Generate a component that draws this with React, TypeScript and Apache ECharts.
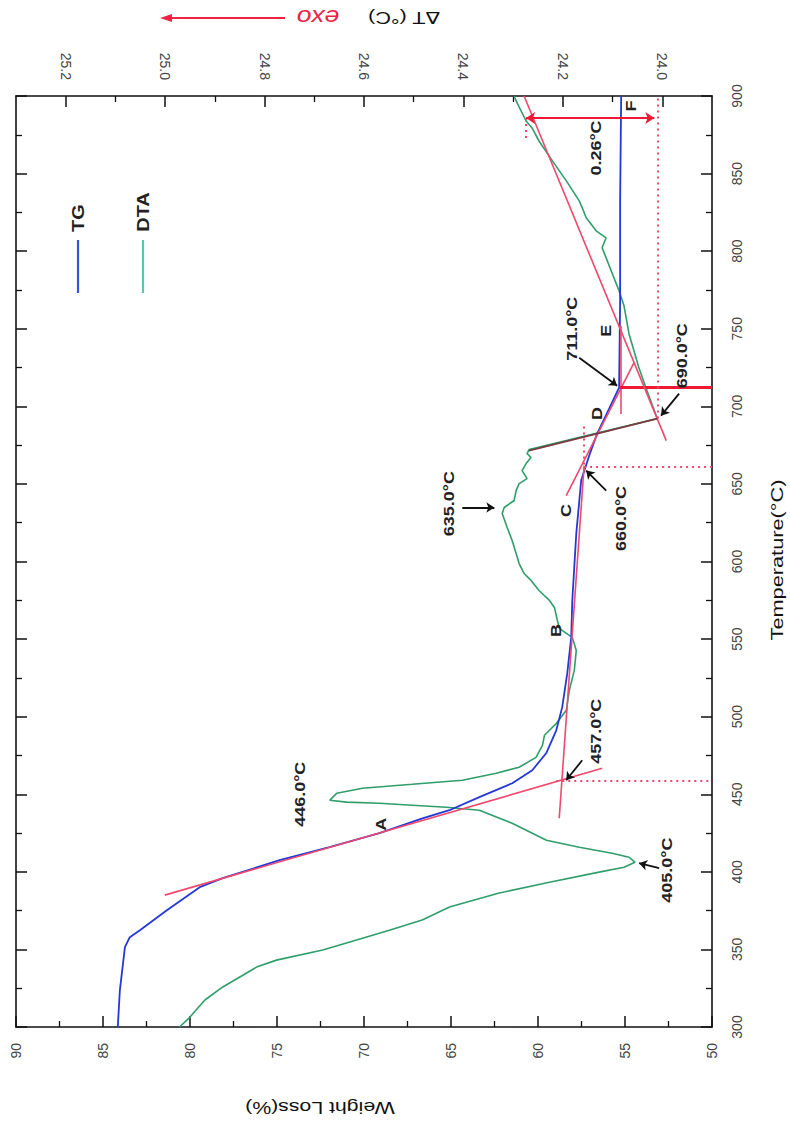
import React, { useEffect, useRef } from "react";
import * as echarts from "echarts";

// ---------- data ----------
const tgTemp = [300.0, 323.8, 351.5, 357.9, 362.4, 375.3, 390.1, 395.9, 407.5, 415.9, 424.9, 434.5, 439.7, 448.1, 457.1, 465.5, 476.4, 491.2, 506.0, 527.9, 551.1, 574.9, 618.0, 652.2, 668.2, 682.4, 698.5, 712.0, 768.0, 832.4, 900.0];
const tgWeight = [84.15, 84.03, 83.74, 83.46, 82.88, 81.33, 79.44, 78.12, 74.85, 71.98, 69.11, 66.64, 65.09, 63.37, 61.48, 60.33, 59.53, 58.95, 58.61, 58.32, 58.09, 58.03, 57.80, 57.52, 57.06, 56.60, 55.91, 55.34, 55.28, 55.28, 55.22];

const dtaTemp = [300.0, 306.4, 317.4, 325.8, 338.6, 343.1, 349.6, 356.0, 362.4, 368.9, 377.3, 386.3, 393.3, 399.8, 403.0, 406.2, 409.4, 412.0, 415.9, 420.4, 431.3, 439.7, 441.6, 442.9, 444.2, 444.9, 446.1, 450.6, 453.9, 456.4, 459.0, 463.5, 467.4, 473.8, 481.5, 488.0, 495.7, 504.1, 517.0, 529.8,
  542.7, 551.1, 553.7, 556.9, 562.0, 570.4, 574.9, 581.3, 587.8, 592.3, 598.7, 605.2, 613.5, 621.9, 630.9, 634.8, 639.3, 645.7, 650.2, 653.4, 658.6, 663.1, 667.0, 669.5, 672.1,
  692.1, 712.0, 724.9, 746.8, 764.8, 774.5, 795.7, 802.2, 808.6, 813.1, 821.5, 827.9, 832.4, 845.3, 858.2, 871.0, 879.4, 883.9, 896.8, 900.0];
const dtaDelta = [24.971, 24.950, 24.920, 24.884, 24.816, 24.776, 24.683, 24.615, 24.549, 24.483, 24.428, 24.328, 24.227, 24.127, 24.077, 24.055, 24.067, 24.101, 24.167, 24.233, 24.302, 24.368, 24.434, 24.503, 24.569, 24.635, 24.669, 24.655, 24.603, 24.503, 24.402, 24.334, 24.288, 24.254, 24.241, 24.237, 24.213, 24.193, 24.187, 24.177,
  24.173, 24.181, 24.193, 24.207, 24.211, 24.217, 24.227, 24.248, 24.264, 24.278, 24.288, 24.294, 24.302, 24.312, 24.322, 24.318, 24.298, 24.294, 24.288, 24.272, 24.282, 24.274, 24.264, 24.272, 24.268,
  24.010, 24.033, 24.047, 24.067, 24.077, 24.087, 24.113, 24.121, 24.113, 24.133, 24.153, 24.161, 24.167, 24.193, 24.221, 24.248, 24.262, 24.274, 24.294, 24.298];

const dtMajorTicks = [24.0, 24.2, 24.4, 24.6, 24.8, 25.0, 25.2];
const dtMinorTicks = [24.1, 24.3, 24.5, 24.7, 24.9, 25.1];

// guide lines in TG coordinates: [temp1, weight1, temp2, weight2]
const tgGuideLines = [
  [385.0, 81.45, 466.7, 56.31],
  [434.5, 58.78, 661.8, 57.35],
  [642.5, 58.38, 728.1, 54.48],
  [695.0, 55.25, 752.0, 55.25],
];
const tgDottedLines = [
  [459.0, 58.95, 459.0, 50],
  [661.2, 57.35, 661.2, 50],
  [658.6, 57.35, 687.5, 57.35],
];
const tgBoldLines = [[712.0, 55.34, 712.0, 50]];
const tgArrows = [
  [402.4, 53.04, 405.6, 54.19],
  [471.9, 57.46, 459.0, 58.38],
  [634.8, 64.35, 634.8, 62.51],
  [645.7, 56.08, 658.6, 57.23],
  [708.2, 51.89, 694.0, 52.93],
  [731.3, 57.63, 713.3, 55.45],
];
// guide lines in DTA coordinates: [temp1, dT1, temp2, dT2]
const dtaGuideLines = [[900.0, 24.278, 677.9, 23.992]];
const dtaSteepLines = [[671.5, 24.268, 692.1, 24.010]];
const dtaDottedLines = [
  [692.1, 24.010, 898.7, 24.010],
  [873.0, 24.274, 886.0, 24.274],
];
const dtaDoubleArrows = [[885.8, 24.274, 885.8, 24.016]];

// annotation texts: [text, temp, weight]
const annotations: [string, number, number][] = [
  ["446.0°C", 450.0, 73.7],
  ["A", 430.7, 69.05],
  ["457.0°C", 490.6, 56.66],
  ["405.0°C", 401.1, 52.58],
  ["B", 555.6, 58.95],
  ["635.0°C", 637.3, 65.09],
  ["C", 632.8, 58.38],
  ["660.0°C", 627.7, 55.22],
  ["D", 695.3, 56.6],
  ["690.0°C", 732.6, 51.72],
  ["711.0°C", 750.0, 58.03],
  ["E", 748.7, 56.08],
  ["0.26°C", 866.5, 56.66],
  ["F", 893.6, 54.65],
];

const FONT = "'Liberation Sans', Arial, Helvetica, sans-serif";
const RED = "#f0486c";
const AXIS = "#111";

const seg = (x1: number, y1: number, x2: number, y2: number) => [
  { coord: [x1, y1] },
  { coord: [x2, y2] },
];

function buildOption(): any {
  const baseTick = { show: true, inside: true, length: 11, lineStyle: { color: AXIS, width: 1.5 } };
  const baseMinor = { show: true, splitNumber: 2, length: 6, lineStyle: { color: AXIS, width: 1.3 } };
  const axisLine = { show: true, onZero: false, lineStyle: { color: AXIS, width: 1.6 } };
  const label = { rotate: 90, fontSize: 14, color: "#444", fontFamily: FONT };

  return {
    animation: false,
    backgroundColor: "#fff",
    grid: { left: 16, right: 78, top: 96, bottom: 94, containLabel: false },
    xAxis: [
      {
        type: "value", min: 50, max: 90, interval: 5, inverse: true, position: "bottom",
        axisLine, axisTick: baseTick, minorTick: baseMinor,
        axisLabel: { ...label, margin: 16 }, splitLine: { show: false },
      },
      {
        type: "value", min: 23.9, max: 25.3, inverse: true, position: "top",
        axisLine,
        axisTick: { ...baseTick, customValues: dtMajorTicks },
        axisLabel: { ...label, margin: 16, customValues: dtMajorTicks, formatter: (v: number) => v.toFixed(1) },
        splitLine: { show: false },
      },
      {
        type: "value", min: 23.9, max: 25.3, inverse: true, position: "top",
        axisLine: { show: false },
        axisTick: { show: true, inside: true, length: 6, lineStyle: { color: AXIS, width: 1.3 }, customValues: dtMinorTicks },
        axisLabel: { show: false }, splitLine: { show: false },
      },
    ],
    yAxis: [
      {
        type: "value", min: 300, max: 900, interval: 50, position: "right",
        axisLine, axisTick: baseTick, minorTick: baseMinor,
        axisLabel: { ...label, margin: 18 }, splitLine: { show: false },
      },
      {
        type: "value", min: 300, max: 900, interval: 50, position: "left",
        axisLine, axisTick: baseTick, minorTick: baseMinor,
        axisLabel: { show: false }, splitLine: { show: false },
      },
    ],
    series: [
      {
        type: "line", name: "guidesTG", xAxisIndex: 0, yAxisIndex: 0, data: [], z: 1,
        markLine: {
          silent: true, symbol: ["none", "none"], label: { show: false }, animation: false,
          lineStyle: { color: RED, width: 1.6, type: "solid" },
          data: [
            ...tgGuideLines.map((l) => seg(l[1], l[0], l[3], l[2])),
            ...tgDottedLines.map((l) => {
              const s: any = seg(l[1], l[0], l[3], l[2]);
              s[0].lineStyle = { color: RED, width: 2, type: [2, 4] };
              return s;
            }),
            ...tgBoldLines.map((l) => {
              const s: any = seg(l[1], l[0], l[3], l[2]);
              s[0].lineStyle = { color: "#f01834", width: 3, type: "solid" };
              return s;
            }),
          ],
        },
      },
      {
        type: "line", name: "guidesDTA", xAxisIndex: 1, yAxisIndex: 0, data: [], z: 1,
        markLine: {
          silent: true, symbol: ["none", "none"], label: { show: false }, animation: false,
          lineStyle: { color: RED, width: 1.6, type: "solid" },
          data: [
            ...dtaGuideLines.map((l) => seg(l[1], l[0], l[3], l[2])),
            ...dtaDottedLines.map((l) => {
              const s: any = seg(l[1], l[0], l[3], l[2]);
              s[0].lineStyle = { color: RED, width: 2, type: [2, 4] };
              return s;
            }),
            ...dtaDoubleArrows.map((l) => {
              const s: any = seg(l[1], l[0], l[3], l[2]);
              s[0].lineStyle = { color: "#f01834", width: 2, type: "solid" };
              s[0].symbol = "arrow";
              s[1].symbol = "arrow";
              s[0].symbolSize = 9;
              s[1].symbolSize = 9;
              return s;
            }),
          ],
        },
      },
      {
        type: "line", name: "TG", xAxisIndex: 0, yAxisIndex: 0, z: 3,
        data: tgWeight.map((w, i) => [w, tgTemp[i]]),
        symbol: "none", lineStyle: { color: "#2438d8", width: 1.8 },
      },
      {
        type: "line", name: "DTA", xAxisIndex: 1, yAxisIndex: 0, z: 2,
        data: dtaDelta.map((d, i) => [d, dtaTemp[i]]),
        symbol: "none", lineStyle: { color: "#2f9e6b", width: 1.6 },
      },
      {
        type: "line", name: "steep", xAxisIndex: 1, yAxisIndex: 0, data: [], z: 4,
        markLine: {
          silent: true, symbol: ["none", "none"], label: { show: false }, animation: false,
          lineStyle: { color: "#7a3a40", width: 1.8, type: "solid" },
          data: dtaSteepLines.map((l) => seg(l[1], l[0], l[3], l[2])),
        },
      },
      {
        type: "line", name: "arrows", xAxisIndex: 0, yAxisIndex: 0, data: [], z: 5,
        markLine: {
          silent: true, symbol: ["none", "arrow"], symbolSize: 8, label: { show: false }, animation: false,
          lineStyle: { color: "#111", width: 1.8, type: "solid" },
          data: tgArrows.map((l) => seg(l[1], l[0], l[3], l[2])),
        },
      },
    ],
  };
}

const App: React.FC = () => {
  const ref = useRef<HTMLDivElement>(null);
  useEffect(() => {
    const chart = echarts.init(ref.current!, null, { renderer: "svg" });
    chart.setOption(buildOption());

    const toPx = (t: number, w: number) =>
      chart.convertToPixel({ xAxisIndex: 0, yAxisIndex: 0 }, [w, t]) as number[];

    const texts: any[] = annotations.map(([txt, t, w]) => {
      const p = toPx(t, w);
      return {
        type: "text", x: p[0], y: p[1], rotation: Math.PI / 2, scaleX: 1.2, z: 10,
        style: { text: txt, fill: "#222", fontSize: 15, fontWeight: "bold", fontFamily: FONT, align: "center", verticalAlign: "middle" },
      };
    });

    const graphic: any[] = [
      ...texts,
      // titles
      {
        type: "text", x: 320, y: 1108, rotation: Math.PI, scaleX: 1.33,
        style: { text: "Weight Loss(%)", fill: "#111", fontSize: 16, fontFamily: FONT, align: "center", verticalAlign: "middle" },
      },
      {
        type: "text", x: 778, y: 560, rotation: Math.PI / 2, scaleX: 1.36,
        style: { text: "Temperature(°C)", fill: "#111", fontSize: 16, fontFamily: FONT, align: "center", verticalAlign: "middle" },
      },
      {
        type: "text", x: 404, y: 17, rotation: Math.PI, scaleX: 1.35,
        style: { text: "ΔT (°C)", fill: "#111", fontSize: 16, fontFamily: FONT, align: "center", verticalAlign: "middle" },
      },
      {
        type: "text", x: 318, y: 18, rotation: Math.PI, scaleX: 1.2,
        style: { text: "exo", fill: "#ee2244", fontSize: 22, fontStyle: "italic", fontFamily: FONT, align: "center", verticalAlign: "middle" },
      },
      { type: "line", shape: { x1: 285, y1: 18, x2: 168, y2: 18 }, style: { stroke: "#ee2244", lineWidth: 2 } },
      { type: "polygon", shape: { points: [[160, 18], [172, 14], [172, 22]] }, style: { fill: "#ee2244" } },
      // legend
      { type: "line", shape: { x1: 78, y1: 240, x2: 78, y2: 293 }, style: { stroke: "#3553e0", lineWidth: 2.2 } },
      {
        type: "text", x: 79, y: 218, rotation: Math.PI / 2, scaleX: 1.25,
        style: { text: "TG", fill: "#222", fontSize: 16, fontWeight: "bold", fontFamily: FONT, align: "center", verticalAlign: "middle" },
      },
      { type: "line", shape: { x1: 143, y1: 240, x2: 143, y2: 293 }, style: { stroke: "#5cc2b2", lineWidth: 2.2 } },
      {
        type: "text", x: 144, y: 212, rotation: Math.PI / 2, scaleX: 1.25,
        style: { text: "DTA", fill: "#222", fontSize: 16, fontWeight: "bold", fontFamily: FONT, align: "center", verticalAlign: "middle" },
      },
    ];
    chart.setOption({ graphic });
    return () => chart.dispose();
  }, []);
  return <div ref={ref} style={{ position: "absolute", left: 0, top: 0, width: 790, height: 1121 }} />;
};

export default App;
